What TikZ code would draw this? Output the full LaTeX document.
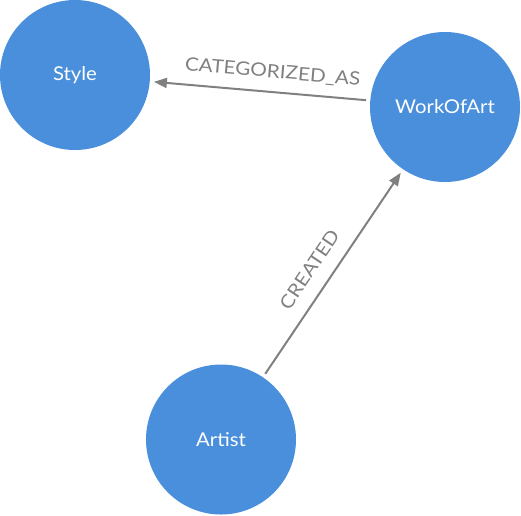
\documentclass[tikz,border=0pt]{standalone}
\usepackage{fontspec}
\setmainfont{Lato}
\newfontfamily\nodefont[FakeStretch=1.07]{Lato}
\newfontfamily\labelfont[FakeStretch=1.12]{Lato}
\usetikzlibrary{arrows.meta}
\definecolor{nodeblue}{HTML}{4A8FDB}
\definecolor{edgegray}{HTML}{808080}
\begin{document}
\begin{tikzpicture}[x=1pt,y=-1pt,
  entity/.style={circle, fill=nodeblue, minimum size=150pt, inner sep=0pt, text=white, font=\nodefont\fontsize{19}{22}\selectfont},
  rel/.style={draw=edgegray, line width=2pt, -{Triangle[length=13pt,width=10pt]}, shorten >=4pt, shorten <=4pt},
  rellabel/.style={sloped, text=edgegray, inner sep=0pt, text depth=0pt, font=\labelfont\fontsize{18.5}{22}\selectfont}]
\useasboundingbox (0,0) rectangle (521,515);
\node[entity] (style) at (75,75) {Style};
\node[entity] (work) at (445,107) {WorkOfArt};
\node[entity] (artist) at (221,439.5) {Artist};
\draw[rel] (work) -- (style);
\path (style) -- node[rellabel, pos=0.55, above=14pt] (catlabel) {CATEGORIZED\_AS} (work);
\draw[rel] (artist) -- node[rellabel, pos=0.46, above=14pt] (crlabel) {CREATED} (work);
\end{tikzpicture}
\end{document}
